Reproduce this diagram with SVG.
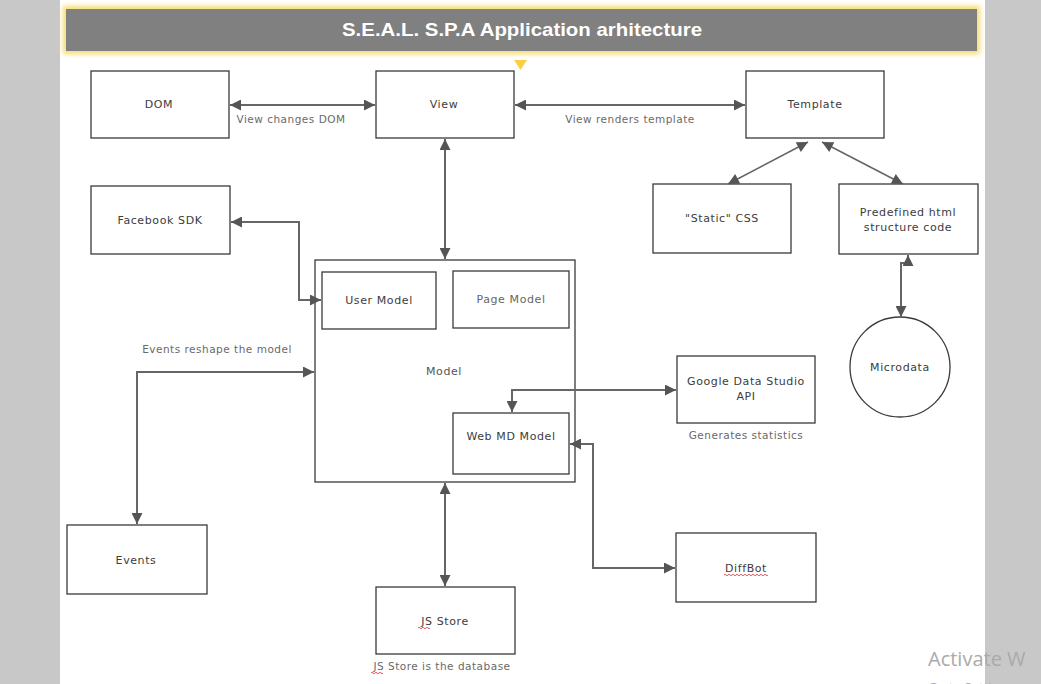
<svg xmlns="http://www.w3.org/2000/svg" width="1041" height="684" viewBox="0 0 1041 684">
<style>
.box{fill:#fff;stroke:#3a3a3a;stroke-width:1.3}
.t{font-family:"DejaVu Sans",Verdana,sans-serif;font-size:11px;fill:#3c3c3c;text-anchor:middle;letter-spacing:0.6px}
.lbl{font-family:"DejaVu Sans",Verdana,sans-serif;font-size:10.5px;fill:#6a6a6a;text-anchor:middle;letter-spacing:0.5px}
.c{fill:none;stroke:#666;stroke-width:2;marker-start:url(#ah);marker-end:url(#ah)}
.wavy{fill:none;stroke:#e03030;stroke-width:0.8}
</style>
<defs>
<marker id="ah" viewBox="0 0 10 10" refX="10" refY="5" markerUnits="userSpaceOnUse" markerWidth="12" markerHeight="11" orient="auto-start-reverse">
<path d="M0,0 L10,5 L0,10 z" fill="#555"/>
</marker>
<filter id="glow" x="-5%" y="-50%" width="110%" height="200%">
<feGaussianBlur stdDeviation="2.5"/>
</filter>
</defs>
<rect x="0" y="0" width="1041" height="684" fill="#c8c8c8"/>
<rect x="60" y="0" width="925" height="684" fill="#fff"/>
<g id="title">
<rect x="63" y="6" width="917" height="48" fill="#f7dc6f" filter="url(#glow)"/>
<rect x="66" y="9" width="911" height="42" fill="#808080"/>
<text x="522" y="36" font-family="Liberation Sans, Arial, sans-serif" font-size="19" font-weight="bold" fill="#fff" text-anchor="middle" textLength="360" lengthAdjust="spacingAndGlyphs">S.E.A.L. S.P.A Application arhitecture</text>
<path d="M514,60 L527,60 L520.5,70 z" fill="#f7d046"/>
</g>
<g id="dom"><rect class="box" x="91" y="71" width="138" height="67"/><text class="t" x="159" y="108">DOM</text></g>
<g id="view"><rect class="box" x="376" y="71" width="138" height="67"/><text class="t" x="444" y="108">View</text></g>
<g id="template"><rect class="box" x="746" y="71" width="138" height="67"/><text class="t" x="815" y="108">Template</text></g>
<g id="facebook"><rect class="box" x="91" y="186" width="139" height="68"/><text class="t" x="160" y="224">Facebook SDK</text></g>
<g id="css"><rect class="box" x="653" y="184" width="138" height="69"/><text class="t" x="722" y="222">"Static" CSS</text></g>
<g id="predefined"><rect class="box" x="839" y="184" width="139" height="70"/><text class="t" x="908" y="216">Predefined html</text><text class="t" x="908" y="231">structure code</text></g>
<g id="model"><rect class="box" x="315" y="260" width="260" height="222"/><text class="t" x="444" y="375" style="fill:#555">Model</text></g>
<g id="usermodel"><rect class="box" x="322" y="272" width="114" height="57"/><text class="t" x="379" y="304">User Model</text></g>
<g id="pagemodel"><rect class="box" x="453" y="271" width="116" height="57"/><text class="t" x="511" y="303" style="fill:#666">Page Model</text></g>
<g id="webmd"><rect class="box" x="453" y="413" width="116" height="61"/><text class="t" x="511" y="440">Web MD Model</text></g>
<g id="google"><rect class="box" x="677" y="356" width="138" height="67"/><text class="t" x="746" y="385">Google Data Studio</text><text class="t" x="746" y="400">API</text></g>
<g id="microdata"><circle cx="900" cy="367" r="50" fill="#fff" stroke="#3a3a3a" stroke-width="1.3"/><text class="t" x="900" y="371">Microdata</text></g>
<g id="events"><rect class="box" x="67" y="525" width="140" height="69"/><text class="t" x="136" y="564">Events</text></g>
<g id="jsstore"><rect class="box" x="376" y="587" width="139" height="67"/><text class="t" x="445" y="625">JS Store</text><path class="wavy" d="M418,628 q1,-1.5 2,0 t2,0 t2,0 t2,0 t2,0 t2,0"/></g>
<g id="diffbot"><rect class="box" x="676" y="533" width="140" height="69"/><text class="t" x="746" y="572">DiffBot</text><path class="wavy" d="M724,575 q1,-1.5 2,0 t2,0 t2,0 t2,0 t2,0 t2,0 t2,0 t2,0 t2,0 t2,0 t2,0 t2,0 t2,0 t2,0 t2,0 t2,0 t2,0 t2,0 t2,0 t2,0 t2,0 t2,0"/></g>
<g id="connectors">
<path class="c" d="M230,105 L375,105"/>
<path class="c" d="M515,105 L745,105"/>
<path class="c" style="stroke-width:1.6" d="M808,142 L728,184"/>
<path class="c" style="stroke-width:1.6" d="M822,142 L903,184"/>
<path class="c" d="M908,255 L908,263 L901,263 L901,317"/>
<path class="c" d="M445,139 L445,259"/>
<path class="c" d="M231,222 L299,222 L299,300 L321,300"/>
<path class="c" d="M137,524 L137,372 L314,372"/>
<path class="c" d="M676,390 L512,390 L512,412"/>
<path class="c" d="M675,568 L593,568 L593,444 L570,444"/>
<path class="c" d="M445,483 L445,586"/>
<text class="lbl" x="291" y="123">View changes DOM</text>
<text class="lbl" x="630" y="123">View renders template</text>
<text class="lbl" x="217" y="353">Events reshape the model</text>
<text class="lbl" x="746" y="439">Generates statistics</text>
<text class="lbl" x="442" y="670">JS Store is the database</text>
<path class="wavy" d="M371,673 q1,-1.5 2,0 t2,0 t2,0 t2,0 t2,0 t2,0"/>
</g>
<g id="watermark">
<text x="928" y="666" font-family="Open Sans, Noto Sans, sans-serif" font-size="20" fill="#aaaaaa">Activate W</text>
<text x="928" y="692" font-family="Open Sans, Noto Sans, sans-serif" font-size="13" fill="#aaaaaa">Go to Setti</text>
</g>
</svg>
